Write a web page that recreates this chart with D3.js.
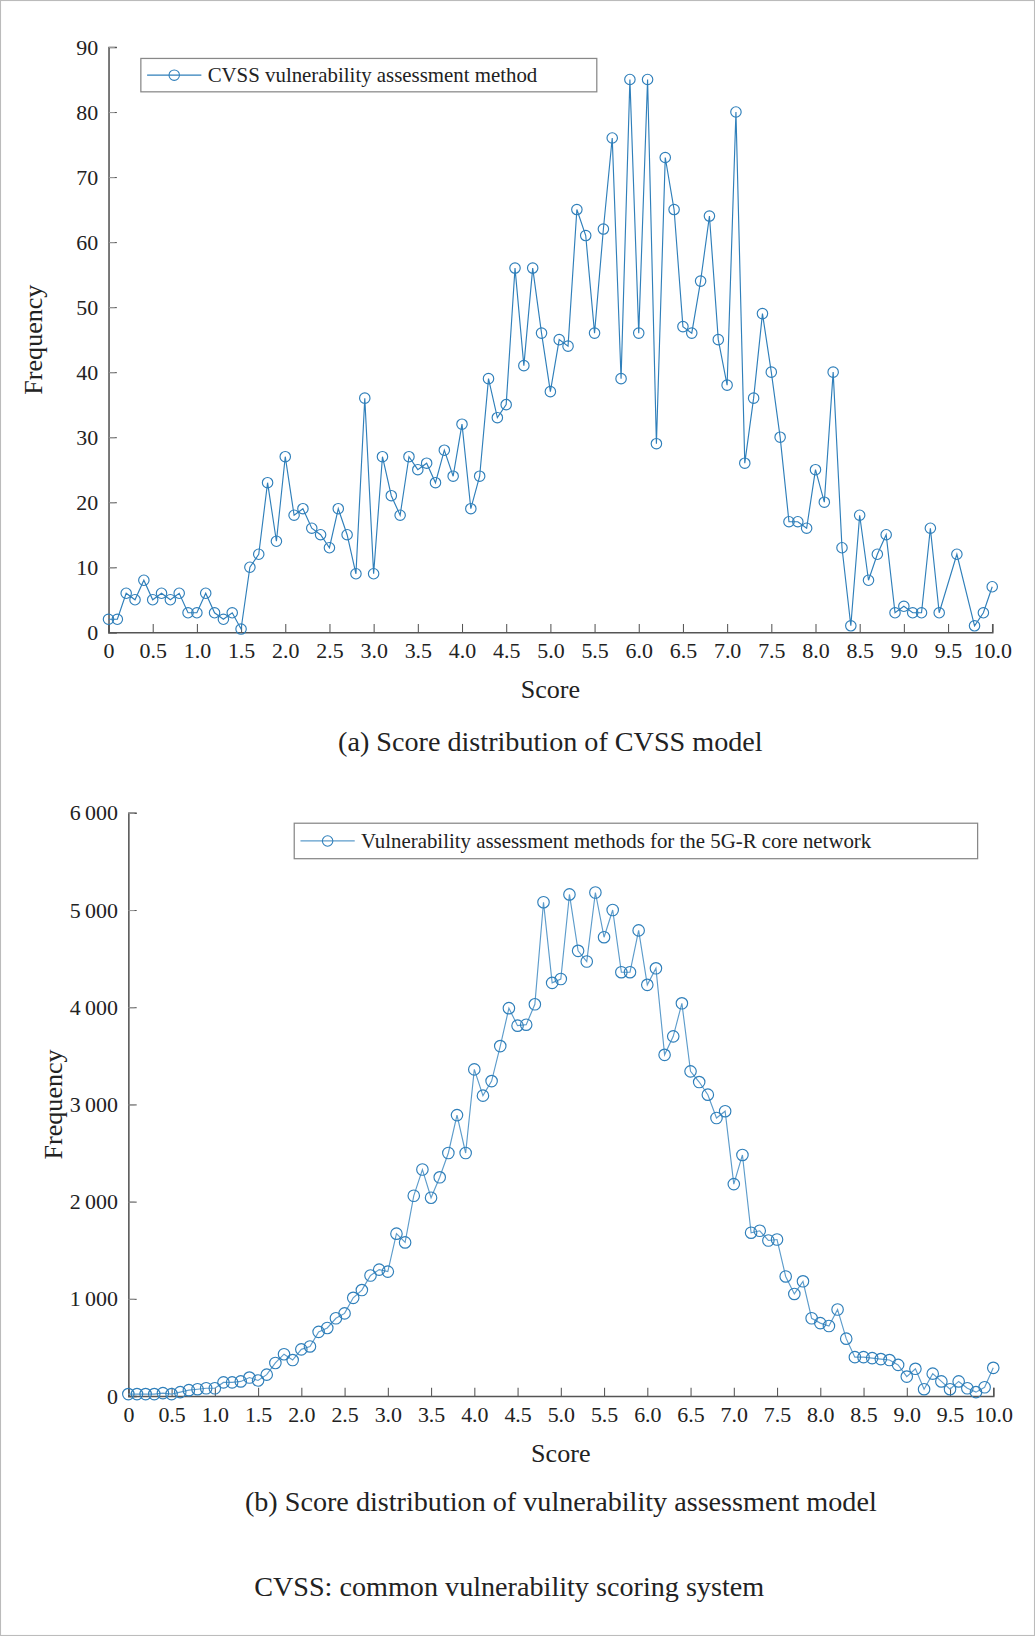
<!DOCTYPE html>
<html><head><meta charset="utf-8">
<script src="https://cdn.jsdelivr.net/npm/d3@7"></script>
<style>body{margin:0;background:#fff}svg{display:block}</style>
</head><body><div id="chart"></div>
<script>
// (a) CVSS model: scores with markers (no markers at 9.5 and 9.7)
const scoresA = [0,0.1,0.2,0.3,0.4,0.5,0.6,0.7,0.8,0.9,1.0,1.1,1.2,1.3,1.4,1.5,1.6,1.7,1.8,1.9,
  2.0,2.1,2.2,2.3,2.4,2.5,2.6,2.7,2.8,2.9,3.0,3.1,3.2,3.3,3.4,3.5,3.6,3.7,3.8,3.9,
  4.0,4.1,4.2,4.3,4.4,4.5,4.6,4.7,4.8,4.9,5.0,5.1,5.2,5.3,5.4,5.5,5.6,5.7,5.8,5.9,
  6.0,6.1,6.2,6.3,6.4,6.5,6.6,6.7,6.8,6.9,7.0,7.1,7.2,7.3,7.4,7.5,7.6,7.7,7.8,7.9,
  8.0,8.1,8.2,8.3,8.4,8.5,8.6,8.7,8.8,8.9,9.0,9.1,9.2,9.3,9.4,9.6,9.8,9.9,10.0];
const freqA = [2,2,6,5,8,5,6,5,6,3,3,6,3,2,3,0.5,10,12,23,14,
  27,18,19,16,15,13,19,15,9,36,9,27,21,18,27,25,26,23,28,24,
  32,19,24,39,33,35,56,41,56,46,37,45,44,65,61,46,62,76,39,85,
  46,85,29,73,65,47,46,54,64,45,38,80,26,36,49,40,30,17,17,16,
  25,20,40,13,1,18,8,12,15,3,4,3,3,16,3,12,1,3,7];

// (b) 5G-R core network model
const scoresB = d3.range(101).map(i => i / 10);
const freqB = [20,20,20,20,30,20,40,60,70,80,80,140,140,150,190,160,220,340,430,370,
  480,510,660,700,800,850,1010,1090,1240,1300,1280,1670,1580,2060,2330,2040,2250,2500,2890,2500,
  3360,3090,3240,3600,3990,3810,3820,4030,5080,4250,4290,5160,4580,4470,5180,4720,5000,4360,4360,4790,
  4230,4400,3510,3700,4040,3340,3230,3100,2860,2930,2180,2480,1680,1700,1600,1610,1230,1050,1180,800,
  750,720,890,590,400,400,390,380,370,320,200,280,70,230,150,70,150,80,40,90,290];

const xTicks = d3.range(0, 10.01, 0.5).map(d => +d.toFixed(1));
const yTicksA = d3.range(0, 91, 10);
const yTicksB = d3.range(0, 6001, 1000);

const W = 992, H = 1568;
const svg = d3.select("#chart").append("svg")
  .attr("width", 1035).attr("height", 1636)
  .attr("viewBox", `0 0 ${W} ${H}`)
  .style("font-family", "'Liberation Serif','DejaVu Serif',serif");

svg.append("rect").attr("x", 0.5).attr("y", 0.5).attr("width", W - 1).attr("height", H - 1)
  .attr("fill", "#fff").attr("stroke", "#bbb");

function panel(o) {
  const x = d3.scaleLinear().domain([0, 10]).range([o.left, o.right]);
  const y = d3.scaleLinear().domain([0, o.ymax]).range([o.bottom, o.top]);
  const g = svg.append("g");

  // axes
  const ya = g.append("g").attr("transform", `translate(${o.left},0)`)
    .call(d3.axisLeft(y).tickValues(o.yTicks).tickSize(-8).tickPadding(10).tickFormat(o.yFmt));
  const xa = g.append("g").attr("transform", `translate(0,${o.bottom})`)
    .call(d3.axisBottom(x).tickValues(xTicks).tickSize(-8).tickPadding(10)
      .tickFormat(d => d === 0 ? "0" : d.toFixed(1)));
  [ya, xa].forEach(a => {
    a.select(".domain").attr("stroke", "#555").attr("stroke-width", 1.5);
    a.selectAll(".tick line").attr("stroke", "#555");
    a.selectAll("text").attr("fill", "#222").style("font-size", "21px")
      .style("font-family", "'Liberation Serif','DejaVu Serif',serif");
  });
  // small outward stub ticks on y as in reference
  ya.selectAll(".tick").append("line").attr("x1", 0).attr("x2", 6).attr("stroke", "#999");

  const pts = o.xs.map((s, i) => [s, o.ys[i]]);
  g.append("path").datum(pts)
    .attr("fill", "none").attr("stroke", o.lineColor).attr("stroke-width", 1.1)
    .attr("d", d3.line().x(d => x(d[0])).y(d => y(d[1])));
  g.selectAll(null).data(pts).enter().append("circle")
    .attr("cx", d => x(d[0])).attr("cy", d => y(d[1])).attr("r", o.r)
    .attr("fill", "none").attr("stroke", "#2f7fba").attr("stroke-width", 1.1);

  // legend
  const lg = g.append("g");
  lg.append("rect").attr("x", o.leg[0]).attr("y", o.leg[1]).attr("width", o.leg[2]).attr("height", o.leg[3])
    .attr("fill", "#fff").attr("stroke", "#888").attr("stroke-width", 1.2);
  const ly = o.leg[1] + o.leg[3] / 2;
  lg.append("line").attr("x1", o.leg[0] + 6).attr("x2", o.leg[0] + 58).attr("y1", ly).attr("y2", ly)
    .attr("stroke", o.lineColor).attr("stroke-width", 1.2);
  lg.append("circle").attr("cx", o.leg[0] + 32).attr("cy", ly).attr("r", 5)
    .attr("fill", "none").attr("stroke", "#2f7fba");
  lg.append("text").attr("x", o.leg[0] + 64).attr("y", ly + 7).text(o.legText)
    .style("font-size", "20px").attr("fill", "#222");

  g.append("text").attr("transform", `translate(${o.left - 64},${(o.top + o.bottom) / 2}) rotate(-90)`)
    .attr("text-anchor", "middle").style("font-size", "25px").attr("fill", "#222").text("Frequency");
  g.append("text").attr("x", (o.left + o.right) / 2).attr("y", o.bottom + 63)
    .attr("text-anchor", "middle").style("font-size", "25px").attr("fill", "#222").text("Score");
  g.append("text").attr("x", (o.left + o.right) / 2).attr("y", o.bottom + o.capDy)
    .attr("text-anchor", "middle").style("font-size", "27px").attr("fill", "#222").text(o.caption);
}

panel({left: 104, right: 951, top: 45, bottom: 606, ymax: 90, yTicks: yTicksA, yFmt: d => d,
  xs: scoresA, ys: freqA, lineColor: "#2f7fba", r: 5,
  leg: [135, 56, 437, 32], legText: "CVSS vulnerability assessment method",
  caption: "(a) Score distribution of CVSS model", capDy: 114});

panel({left: 123, right: 952, top: 779, bottom: 1338, ymax: 6000, yTicks: yTicksB,
  yFmt: d => d === 0 ? "0" : d3.format(",")(d).replace(",", "\u2009"),
  xs: scoresB, ys: freqB, lineColor: "#5d9ccb", r: 5.5,
  leg: [282, 789, 655, 34], legText: "Vulnerability assessment methods for the 5G-R core network",
  caption: "(b) Score distribution of vulnerability assessment model", capDy: 110});

svg.append("text").attr("x", 488).attr("y", 1530).attr("text-anchor", "middle")
  .style("font-size", "27px").attr("fill", "#222").text("CVSS: common vulnerability scoring system");
</script></body></html>
